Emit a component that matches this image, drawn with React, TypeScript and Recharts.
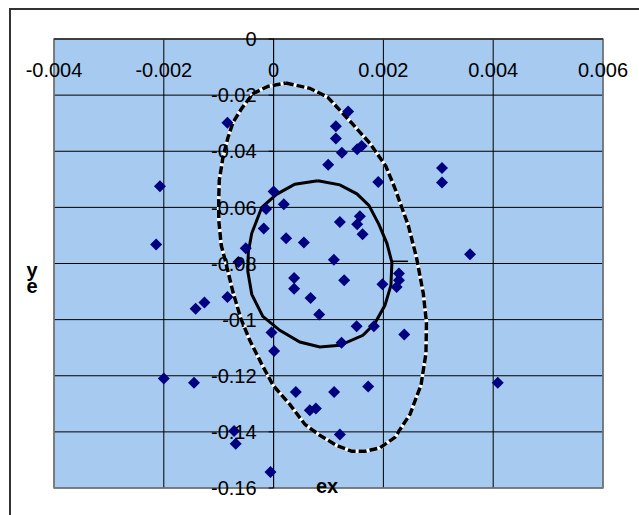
import { ComposedChart, Scatter, Line, XAxis, YAxis, CartesianGrid, ReferenceLine, ReferenceArea } from "recharts";

const W = 639;
const H = 515;
const M = { top: 38, right: 36, bottom: 27, left: 53 };
const X_MIN = -0.004;
const X_MAX = 0.006;
const Y_MIN = -0.16;
const Y_MAX = 0;
const FONT = "'Liberation Sans', Arial, sans-serif";

const xTicks = [-0.004, -0.002, 0, 0.002, 0.004, 0.006];
const yTicks = [0, -0.02, -0.04, -0.06, -0.08, -0.1, -0.12, -0.14, -0.16];

// measured samples
const sampleEx = [
  -0.000841, -0.00207, -0.00214, 0.0, -0.000137, 0.000186, -0.000179, 0.000228, 0.000551, -0.000507,
  -0.00064, 0.000374, 0.000374, 0.000673, 0.00083, -0.00142, -0.00126, -0.000841, -0.000038, 0.000009,
  -0.002, -0.00145, 0.000405, 0.00066, 0.00077, -0.00072, -0.00069, -0.000057, 0.001358, 0.001134,
  0.001134, 0.001244, 0.001523, 0.001603, 0.000994, 0.001906, 0.003067, 0.003067, 0.001207, 0.001572,
  0.001523, 0.001621, 0.003578, 0.001098, 0.001286, 0.001982, 0.002283, 0.002283, 0.002241, 0.001512,
  0.001827, 0.00238, 0.001238, 0.004083, 0.001103, 0.001723, 0.001207,
];
const sampleEy = [
  -0.0298, -0.0525, -0.0732, -0.0543, -0.0606, -0.0589, -0.0675, -0.071, -0.0725, -0.0746,
  -0.0795, -0.0852, -0.089, -0.0923, -0.0982, -0.0961, -0.0939, -0.0919, -0.1046, -0.1112,
  -0.121, -0.1225, -0.1258, -0.1323, -0.1317, -0.1397, -0.1442, -0.1543, -0.0258, -0.0311,
  -0.0355, -0.0405, -0.0393, -0.0381, -0.0448, -0.051, -0.046, -0.0511, -0.0652, -0.0632,
  -0.066, -0.0696, -0.0767, -0.0787, -0.086, -0.0874, -0.0836, -0.086, -0.0884, -0.1024,
  -0.1024, -0.1053, -0.1082, -0.1225, -0.1258, -0.1238, -0.1409,
];

// solid ellipse outline
const innerEx = [
  0.000806, 0.001207, 0.001517, 0.001736, 0.001918, 0.002064, 0.002155, 0.002137, 0.002028, 0.001845,
  0.001627, 0.001207, 0.000842, 0.000478, 0.000113, -0.000197, -0.000398, -0.00047, -0.000461, -0.000398,
  -0.000215, 0.000053, 0.000387,
];
const innerEy = [
  -0.05053, -0.05196, -0.05517, -0.05927, -0.06604, -0.07281, -0.07958, -0.08778, -0.0949, -0.10132,
  -0.1056, -0.10916, -0.10976, -0.10798, -0.10381, -0.09882, -0.09098, -0.08279, -0.07602, -0.06924,
  -0.05998, -0.05535, -0.05178,
];

// dashed ellipse outline
const outerEx = [
  0.000222, 0.00066, 0.000988, 0.001152, 0.001444, 0.001754, 0.002046, 0.00221, 0.002332, 0.002453,
  0.002606, 0.002726, 0.002784, 0.002775, 0.002684, 0.002484, 0.00221, 0.001937, 0.001663, 0.001426,
  0.001147, 0.000842, 0.000569, 0.000295, -0.000009, -0.000221, -0.000434, -0.000598, -0.000739, -0.000872,
  -0.000954, -0.000999, -0.000999, -0.00099, -0.000921, -0.000835, -0.000739, -0.00058, -0.000374, -0.000106,
];
const outerEy = [
  -0.01568, -0.01757, -0.02078, -0.02423, -0.0304, -0.03717, -0.04537, -0.05321, -0.05987, -0.06639,
  -0.07815, -0.09063, -0.10096, -0.11201, -0.12341, -0.13375, -0.14195, -0.14569, -0.14693, -0.14693,
  -0.1448, -0.14123, -0.13731, -0.13019, -0.12341, -0.11568, -0.10738, -0.09954, -0.09027, -0.07958,
  -0.07352, -0.06461, -0.05748, -0.05036, -0.04205, -0.03539, -0.02969, -0.0247, -0.01946, -0.01686,
];

const markEx = [0.002174, 0.002447];
const markEy = [-0.07922, -0.07922];

const pair = (xs: number[], ys: number[]) => xs.map((x, i) => ({ x, y: ys[i] }));
const ring = (xs: number[], ys: number[]) => {
  const pts = pair(xs, ys);
  return [...pts, pts[0]];
};

const samples = pair(sampleEx, sampleEy);
const inner = ring(innerEx, innerEy);
const outer = ring(outerEx, outerEy);
const mark = pair(markEx, markEy);

const AXIS_W = 1;
const plotLeft = M.left + AXIS_W;
const plotTop = M.top + AXIS_W;
const plotW = W - plotLeft - M.right;
const zeroX = plotLeft + (plotW * (0 - X_MIN)) / (X_MAX - X_MIN);

const renderXTick = (props: any) => (
  <text x={props.x} y={plotTop + 38} textAnchor="middle" fontSize={20} fontFamily={FONT} fill="#000">
    {String(props.payload.value)}
  </text>
);

const renderYTick = (props: any) => (
  <g>
    <line x1={zeroX - 5} x2={zeroX} y1={props.y} y2={props.y} stroke="#000" />
    <text x={zeroX - 17} y={props.y} dy="0.36em" textAnchor="end" fontSize={20} fontFamily={FONT} fill="#000">
      {String(props.payload.value)}
    </text>
  </g>
);

const Diamond = (props: any) => {
  const { cx, cy } = props;
  return (
    <polygon points={`${cx},${cy - 6} ${cx + 6},${cy} ${cx},${cy + 6} ${cx - 6},${cy}`} fill="#000080" />
  );
};

export default function App() {
  return (
    <div style={{ position: "absolute", left: 0, top: 0, width: W, height: H, overflow: "hidden", background: "#fff" }}>
      <div
        style={{
          position: "absolute",
          left: 9,
          top: 8,
          width: 800,
          height: 700,
          border: "2px solid #333",
        }}
      />
      <div style={{ position: "absolute", left: 0, top: 0 }}>
        <ComposedChart width={W} height={H} margin={M}>
          <CartesianGrid stroke="#000" fill="#A6CAF0" fillOpacity={1} />
          <ReferenceArea x1={X_MIN} x2={X_MAX} y1={Y_MIN} y2={Y_MAX} fill="none" stroke="#808080" strokeWidth={1.5} />
          <XAxis
            type="number"
            dataKey="x"
            orientation="top"
            height={AXIS_W}
            domain={[X_MIN, X_MAX]}
            ticks={xTicks}
            interval={0}
            allowDataOverflow
            tickLine={false}
            axisLine={{ stroke: "#000" }}
            tick={renderXTick}
          />
          <YAxis
            type="number"
            width={AXIS_W}
            domain={[Y_MIN, Y_MAX]}
            ticks={yTicks}
            interval={0}
            allowDataOverflow
            tickLine={false}
            axisLine={false}
            tick={renderYTick}
          />
          <ReferenceLine x={0} stroke="#000" />
          <Scatter data={samples} dataKey="y" shape={Diamond} isAnimationActive={false} />
          <Line data={inner} dataKey="y" type="linear" stroke="#000" strokeWidth={3} dot={false} activeDot={false} isAnimationActive={false} />
          <Line data={mark} dataKey="y" type="linear" stroke="#000" strokeWidth={1.5} dot={false} activeDot={false} isAnimationActive={false} />
          <Line data={outer} dataKey="y" type="linear" stroke="#fff" strokeWidth={3.5} dot={false} activeDot={false} isAnimationActive={false} />
          <Line
            data={outer}
            dataKey="y"
            type="linear"
            stroke="#000"
            strokeWidth={3.5}
            strokeDasharray="8 3"
            dot={false}
            activeDot={false}
            isAnimationActive={false}
          />
        </ComposedChart>
      </div>
      <div style={{ position: "absolute", left: 316, top: 474, fontFamily: FONT, fontWeight: "bold", fontSize: 20, lineHeight: "24px" }}>
        ex
      </div>
      <div style={{ position: "absolute", left: 26, top: 262, fontFamily: FONT, fontWeight: "bold", fontSize: 20, lineHeight: "16px", textAlign: "center", width: 12 }}>
        <div>y</div>
        <div>e</div>
      </div>
    </div>
  );
}
